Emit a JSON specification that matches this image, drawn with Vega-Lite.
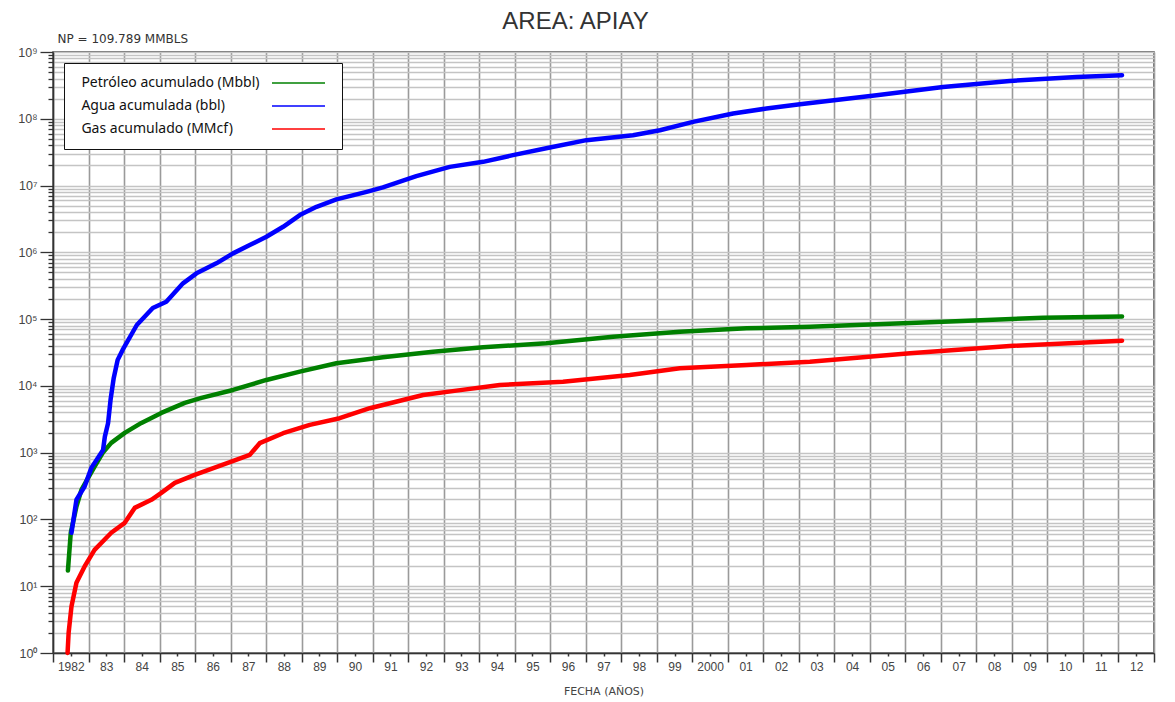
{
  "$schema": "https://vega.github.io/schema/vega-lite/v6.json",
  "width": 1101,
  "height": 601,
  "autosize": "none",
  "padding": {"left": 53, "top": 52, "right": 21, "bottom": 49},
  "background": "#ffffff",
  "title": {
    "text": "AREA: APIAY",
    "fontSize": 24,
    "font": "Liberation Sans",
    "fontWeight": "normal",
    "color": "#333333",
    "anchor": "middle",
    "dx": -28,
    "offset": -2
  },
  "data": {
    "values": [
      {"serie": "Petróleo acumulado (Mbbl)", "anio": 1982.42, "valor": 17.2},
      {"serie": "Petróleo acumulado (Mbbl)", "anio": 1982.50, "valor": 63},
      {"serie": "Petróleo acumulado (Mbbl)", "anio": 1982.66, "valor": 156},
      {"serie": "Petróleo acumulado (Mbbl)", "anio": 1982.80, "valor": 277},
      {"serie": "Petróleo acumulado (Mbbl)", "anio": 1982.99, "valor": 420},
      {"serie": "Petróleo acumulado (Mbbl)", "anio": 1983.17, "valor": 619},
      {"serie": "Petróleo acumulado (Mbbl)", "anio": 1983.40, "valor": 993},
      {"serie": "Petróleo acumulado (Mbbl)", "anio": 1983.64, "valor": 1400},
      {"serie": "Petróleo acumulado (Mbbl)", "anio": 1984.02, "valor": 1977},
      {"serie": "Petróleo acumulado (Mbbl)", "anio": 1984.49, "valor": 2790},
      {"serie": "Petróleo acumulado (Mbbl)", "anio": 1985.05, "valor": 3940},
      {"serie": "Petróleo acumulado (Mbbl)", "anio": 1985.71, "valor": 5560},
      {"serie": "Petróleo acumulado (Mbbl)", "anio": 1986.18, "valor": 6600},
      {"serie": "Petróleo acumulado (Mbbl)", "anio": 1987.07, "valor": 8690},
      {"serie": "Petróleo acumulado (Mbbl)", "anio": 1988.01, "valor": 12270},
      {"serie": "Petróleo acumulado (Mbbl)", "anio": 1988.95, "valor": 16330},
      {"serie": "Petróleo acumulado (Mbbl)", "anio": 1989.98, "valor": 21820},
      {"serie": "Petróleo acumulado (Mbbl)", "anio": 1991.29, "valor": 26810},
      {"serie": "Petróleo acumulado (Mbbl)", "anio": 1992.70, "valor": 32520},
      {"serie": "Petróleo acumulado (Mbbl)", "anio": 1994.11, "valor": 37840},
      {"serie": "Petróleo acumulado (Mbbl)", "anio": 1995.89, "valor": 43450},
      {"serie": "Petróleo acumulado (Mbbl)", "anio": 1997.77, "valor": 54550},
      {"serie": "Petróleo acumulado (Mbbl)", "anio": 1999.65, "valor": 64770},
      {"serie": "Petróleo acumulado (Mbbl)", "anio": 2001.53, "valor": 72790},
      {"serie": "Petróleo acumulado (Mbbl)", "anio": 2003.31, "valor": 76940},
      {"serie": "Petróleo acumulado (Mbbl)", "anio": 2007.06, "valor": 91440},
      {"serie": "Petróleo acumulado (Mbbl)", "anio": 2009.88, "valor": 104900},
      {"serie": "Petróleo acumulado (Mbbl)", "anio": 2012.10, "valor": 109789},
      {"serie": "Agua acumulada (bbl)", "anio": 1982.52, "valor": 63},
      {"serie": "Agua acumulada (bbl)", "anio": 1982.66, "valor": 197},
      {"serie": "Agua acumulada (bbl)", "anio": 1982.89, "valor": 311},
      {"serie": "Agua acumulada (bbl)", "anio": 1983.08, "valor": 592},
      {"serie": "Agua acumulada (bbl)", "anio": 1983.41, "valor": 1100},
      {"serie": "Agua acumulada (bbl)", "anio": 1983.46, "valor": 1740},
      {"serie": "Agua acumulada (bbl)", "anio": 1983.55, "valor": 2760},
      {"serie": "Agua acumulada (bbl)", "anio": 1983.62, "valor": 6160},
      {"serie": "Agua acumulada (bbl)", "anio": 1983.71, "valor": 13150},
      {"serie": "Agua acumulada (bbl)", "anio": 1983.82, "valor": 24440},
      {"serie": "Agua acumulada (bbl)", "anio": 1983.96, "valor": 34500},
      {"serie": "Agua acumulada (bbl)", "anio": 1984.36, "valor": 81600},
      {"serie": "Agua acumulada (bbl)", "anio": 1984.81, "valor": 146600},
      {"serie": "Agua acumulada (bbl)", "anio": 1985.19, "valor": 182000},
      {"serie": "Agua acumulada (bbl)", "anio": 1985.66, "valor": 343500},
      {"serie": "Agua acumulada (bbl)", "anio": 1986.04, "valor": 484500},
      {"serie": "Agua acumulada (bbl)", "anio": 1986.60, "valor": 683800},
      {"serie": "Agua acumulada (bbl)", "anio": 1987.07, "valor": 964800},
      {"serie": "Agua acumulada (bbl)", "anio": 1987.54, "valor": 1284000},
      {"serie": "Agua acumulada (bbl)", "anio": 1988.01, "valor": 1711000},
      {"serie": "Agua acumulada (bbl)", "anio": 1988.48, "valor": 2412000},
      {"serie": "Agua acumulada (bbl)", "anio": 1988.95, "valor": 3610000},
      {"serie": "Agua acumulada (bbl)", "anio": 1989.42, "valor": 4806000},
      {"serie": "Agua acumulada (bbl)", "anio": 1989.98, "valor": 6196000},
      {"serie": "Agua acumulada (bbl)", "anio": 1990.83, "valor": 8050000},
      {"serie": "Agua acumulada (bbl)", "anio": 1991.29, "valor": 9380000},
      {"serie": "Agua acumulada (bbl)", "anio": 1992.23, "valor": 13830000},
      {"serie": "Agua acumulada (bbl)", "anio": 1993.17, "valor": 19050000},
      {"serie": "Agua acumulada (bbl)", "anio": 1994.11, "valor": 22650000},
      {"serie": "Agua acumulada (bbl)", "anio": 1994.95, "valor": 28510000},
      {"serie": "Agua acumulada (bbl)", "anio": 1995.99, "valor": 37150000},
      {"serie": "Agua acumulada (bbl)", "anio": 1997.02, "valor": 47850000},
      {"serie": "Agua acumulada (bbl)", "anio": 1998.33, "valor": 56790000},
      {"serie": "Agua acumulada (bbl)", "anio": 1999.09, "valor": 67420000},
      {"serie": "Agua acumulada (bbl)", "anio": 2000.02, "valor": 89800000},
      {"serie": "Agua acumulada (bbl)", "anio": 2001.15, "valor": 119900000},
      {"serie": "Agua acumulada (bbl)", "anio": 2002.09, "valor": 142500000},
      {"serie": "Agua acumulada (bbl)", "anio": 2003.03, "valor": 165300000},
      {"serie": "Agua acumulada (bbl)", "anio": 2005.19, "valor": 225400000},
      {"serie": "Agua acumulada (bbl)", "anio": 2007.06, "valor": 299800000},
      {"serie": "Agua acumulada (bbl)", "anio": 2008.94, "valor": 368700000},
      {"serie": "Agua acumulada (bbl)", "anio": 2010.82, "valor": 423400000},
      {"serie": "Agua acumulada (bbl)", "anio": 2012.10, "valor": 448700000},
      {"serie": "Gas acumulado (MMcf)", "anio": 1982.41, "valor": 1},
      {"serie": "Gas acumulado (MMcf)", "anio": 1982.44, "valor": 2.01},
      {"serie": "Gas acumulado (MMcf)", "anio": 1982.52, "valor": 4.98},
      {"serie": "Gas acumulado (MMcf)", "anio": 1982.66, "valor": 11.3},
      {"serie": "Gas acumulado (MMcf)", "anio": 1982.89, "valor": 19.8},
      {"serie": "Gas acumulado (MMcf)", "anio": 1983.17, "valor": 35.1},
      {"serie": "Gas acumulado (MMcf)", "anio": 1983.64, "valor": 63.1},
      {"serie": "Gas acumulado (MMcf)", "anio": 1984.02, "valor": 89},
      {"serie": "Gas acumulado (MMcf)", "anio": 1984.30, "valor": 149},
      {"serie": "Gas acumulado (MMcf)", "anio": 1984.77, "valor": 197},
      {"serie": "Gas acumulado (MMcf)", "anio": 1985.05, "valor": 250},
      {"serie": "Gas acumulado (MMcf)", "anio": 1985.43, "valor": 353},
      {"serie": "Gas acumulado (MMcf)", "anio": 1985.99, "valor": 465},
      {"serie": "Gas acumulado (MMcf)", "anio": 1987.02, "valor": 736},
      {"serie": "Gas acumulado (MMcf)", "anio": 1987.54, "valor": 926},
      {"serie": "Gas acumulado (MMcf)", "anio": 1987.82, "valor": 1387},
      {"serie": "Gas acumulado (MMcf)", "anio": 1988.48, "valor": 1955},
      {"serie": "Gas acumulado (MMcf)", "anio": 1989.23, "valor": 2605},
      {"serie": "Gas acumulado (MMcf)", "anio": 1990.07, "valor": 3280},
      {"serie": "Gas acumulado (MMcf)", "anio": 1990.92, "valor": 4628},
      {"serie": "Gas acumulado (MMcf)", "anio": 1992.42, "valor": 7316},
      {"serie": "Gas acumulado (MMcf)", "anio": 1993.36, "valor": 8490},
      {"serie": "Gas acumulado (MMcf)", "anio": 1994.58, "valor": 10330},
      {"serie": "Gas acumulado (MMcf)", "anio": 1996.36, "valor": 11570},
      {"serie": "Gas acumulado (MMcf)", "anio": 1998.24, "valor": 14590},
      {"serie": "Gas acumulado (MMcf)", "anio": 1999.65, "valor": 18360},
      {"serie": "Gas acumulado (MMcf)", "anio": 2001.53, "valor": 20570},
      {"serie": "Gas acumulado (MMcf)", "anio": 2003.31, "valor": 23060},
      {"serie": "Gas acumulado (MMcf)", "anio": 2006.13, "valor": 30780},
      {"serie": "Gas acumulado (MMcf)", "anio": 2008.94, "valor": 39570},
      {"serie": "Gas acumulado (MMcf)", "anio": 2012.10, "valor": 47510}
    ]
  },
  "mark": {"type": "line", "strokeWidth": 4.5, "strokeCap": "round", "strokeJoin": "round", "clip": false},
  "encoding": {
    "x": {
      "field": "anio",
      "type": "quantitative",
      "scale": {"domain": [1982, 2013], "nice": false, "zero": false},
      "axis": {
        "title": "FECHA (AÑOS)",
        "titleFont": "DejaVu Sans",
        "titleFontSize": 11,
        "titleFontWeight": "normal",
        "titleColor": "#444444",
        "titlePadding": 7,
        "values": [1982, 1982.5, 1983, 1983.5, 1984, 1984.5, 1985, 1985.5, 1986, 1986.5, 1987, 1987.5, 1988, 1988.5, 1989, 1989.5, 1990, 1990.5, 1991, 1991.5, 1992, 1992.5, 1993, 1993.5, 1994, 1994.5, 1995, 1995.5, 1996, 1996.5, 1997, 1997.5, 1998, 1998.5, 1999, 1999.5, 2000, 2000.5, 2001, 2001.5, 2002, 2002.5, 2003, 2003.5, 2004, 2004.5, 2005, 2005.5, 2006, 2006.5, 2007, 2007.5, 2008, 2008.5, 2009, 2009.5, 2010, 2010.5, 2011, 2011.5, 2012, 2012.5, 2013],
        "labelExpr": "datum.value % 1 != 0 ? ((floor(datum.value) == 1982 || floor(datum.value) == 2000) ? '' + floor(datum.value) : substring('' + floor(datum.value), 2, 4)) : ''",
        "labelFont": "Liberation Sans",
        "labelFontSize": 12,
        "labelColor": "#444444",
        "labelOverlap": false,
        "labelFlush": false,
        "labelPadding": 5,
        "grid": true,
        "gridColor": "#9a9a9a",
        "gridWidth": 1.6,
        "gridOpacity": {"condition": {"test": "datum.value % 1 == 0", "value": 1}, "value": 0},
        "tickSize": {"condition": {"test": "datum.value % 1 == 0", "value": 9}, "value": 3},
        "tickColor": "#333333",
        "tickWidth": 1.5,
        "domainColor": "#333333",
        "domainWidth": 1.5
      }
    },
    "y": {
      "field": "valor",
      "type": "quantitative",
      "scale": {"type": "log", "domain": [1, 1000000000], "nice": false},
      "axis": {
        "title": "NP =  109.789  MMBLS",
        "titleAngle": 0,
        "titleAlign": "left",
        "titleBaseline": "alphabetic",
        "titleX": 4,
        "titleY": -10,
        "titleFont": "DejaVu Sans",
        "titleFontSize": 12,
        "titleFontWeight": "normal",
        "titleColor": "#333333",
        "values": [1, 2, 3, 4, 5, 6, 7, 8, 9, 10, 20, 30, 40, 50, 60, 70, 80, 90, 100, 200, 300, 400, 500, 600, 700, 800, 900, 1000, 2000, 3000, 4000, 5000, 6000, 7000, 8000, 9000, 10000, 20000, 30000, 40000, 50000, 60000, 70000, 80000, 90000, 100000, 200000, 300000, 400000, 500000, 600000, 700000, 800000, 900000, 1000000, 2000000, 3000000, 4000000, 5000000, 6000000, 7000000, 8000000, 9000000, 10000000, 20000000, 30000000, 40000000, 50000000, 60000000, 70000000, 80000000, 90000000, 100000000, 200000000, 300000000, 400000000, 500000000, 600000000, 700000000, 800000000, 900000000, 1000000000],
        "labelExpr": "abs(log(datum.value)/LN10 - round(log(datum.value)/LN10)) < 0.000001 ? '10' + substring('⁰¹²³⁴⁵⁶⁷⁸⁹', round(log(datum.value)/LN10), round(log(datum.value)/LN10) + 1) : ''",
        "labelFont": "Liberation Sans",
        "labelFontSize": 12.5,
        "labelColor": "#444444",
        "labelOverlap": false,
        "labelFlush": false,
        "labelPadding": 3,
        "grid": true,
        "gridColor": "#c4c4c4",
        "gridWidth": 1.4,
        "tickSize": {"condition": {"test": "abs(log(datum.value)/LN10 - round(log(datum.value)/LN10)) < 0.000001", "value": 13}, "value": 5},
        "tickColor": "#333333",
        "tickWidth": 1.3,
        "domainColor": "#333333",
        "domainWidth": 1.5
      }
    },
    "color": {
      "field": "serie",
      "type": "nominal",
      "sort": ["Petróleo acumulado (Mbbl)", "Agua acumulada (bbl)", "Gas acumulado (MMcf)"],
      "scale": {
        "domain": ["Petróleo acumulado (Mbbl)", "Agua acumulada (bbl)", "Gas acumulado (MMcf)"],
        "range": ["#008000", "#0000ff", "#ff0000"]
      },
      "legend": {
        "title": null,
        "orient": "top-left",
        "offset": 11,
        "symbolType": "M37.6,0H48.2",
        "symbolSize": 100,
        "symbolStrokeWidth": 1.6,
        "labelFont": "Noto Sans",
        "labelFontSize": 14,
        "labelColor": "#111111",
        "labelAlign": "left",
        "labelOffset": -9.6,
        "labelLimit": 300,
        "strokeColor": "#111111",
        "fillColor": "#ffffff",
        "padding": 13,
        "rowPadding": 9
      }
    }
  },
  "config": {
    "view": {"stroke": "#444444", "strokeWidth": 1.5}
  }
}
